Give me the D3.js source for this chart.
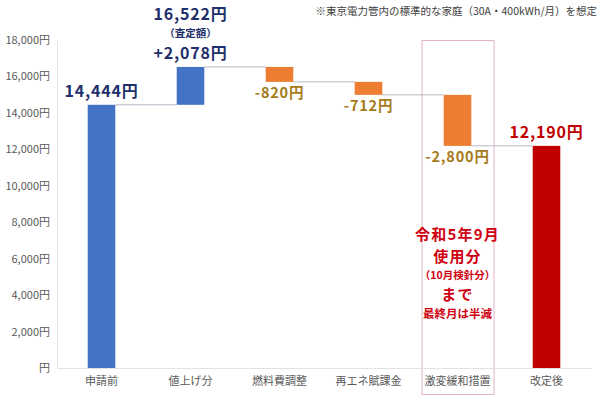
<!DOCTYPE html>
<html>
<head>
<meta charset="utf-8">
<script src="https://cdn.jsdelivr.net/npm/d3@7"></script>
<style>
  body { margin: 0; background: #fff; }
  svg text { font-family: "Noto Sans CJK JP", "Noto Sans", sans-serif; }
</style>
</head>
<body>
<div id="chart"></div>
<script>
const categories = ["申請前", "値上げ分", "燃料費調整", "再エネ賦課金", "激変緩和措置", "改定後"];
const values = [14444, 2078, -820, -712, -2800, 12190];
const kinds = ["total", "delta", "delta", "delta", "delta", "total"];
const barColors = ["#4472C4", "#4472C4", "#ED7D31", "#ED7D31", "#ED7D31", "#C00000"];
const valueLabels = ["14,444円", "+2,078円", "-820円", "-712円", "-2,800円", "12,190円"];
const yTicks = [0, 2000, 4000, 6000, 8000, 10000, 12000, 14000, 16000, 18000];

const width = 600;
const height = 397;

const svg = d3.select("#chart")
    .append("svg")
    .attr("width", width)
    .attr("height", height);

const xScale = d3.scaleBand()
    .domain(categories)
    .range([57, 591])
    .padding(0);

const yScale = d3.scaleLinear()
    .domain([0, 18000])
    .range([368, 40]);

// running totals for the waterfall
let running = 0;
const bars = categories.map((c, i) => {
    let lo, hi;
    if (kinds[i] === "total") {
        lo = 0; hi = values[i]; running = values[i];
    } else {
        const start = running;
        running += values[i];
        lo = Math.min(start, running); hi = Math.max(start, running);
    }
    return { name: c, lo: lo, hi: hi, end: running, value: values[i], color: barColors[i], label: valueLabels[i] };
});

const barW = xScale.bandwidth() * 0.31;
const cx = name => xScale(name) + xScale.bandwidth() / 2;

// pink highlight box
const hl = "激変緩和措置";
svg.append("rect")
    .attr("x", cx(hl) - 35.5)
    .attr("y", 40.5)
    .attr("width", 72)
    .attr("height", 354)
    .attr("fill", "none")
    .attr("stroke", "#e3b3c3")
    .attr("stroke-width", 1);

// axes
const yAxis = svg.append("g")
    .attr("transform", "translate(57,0)")
    .call(d3.axisLeft(yScale).tickValues(yTicks).tickSize(0).tickPadding(7)
        .tickFormat(d => d === 0 ? "円" : d3.format(",")(d) + "円"));
yAxis.select(".domain").attr("stroke", "#e2e2e2");
yAxis.selectAll("text")
    .attr("fill", "#595959")
    .attr("font-size", "11px")
    .attr("font-family", "\"Noto Sans CJK JP\", sans-serif");

const xAxis = svg.append("g")
    .attr("transform", "translate(0,368)")
    .call(d3.axisBottom(xScale).tickSize(0).tickPadding(9));
xAxis.select(".domain").attr("stroke", "#e2e2e2");
xAxis.selectAll("text")
    .attr("fill", "#595959")
    .attr("font-size", "11px")
    .attr("font-family", "\"Noto Sans CJK JP\", sans-serif");

// connector lines
for (let i = 0; i < bars.length - 1; i++) {
    svg.append("line")
        .attr("x1", cx(bars[i].name) + barW / 2)
        .attr("x2", cx(bars[i + 1].name) - barW / 2)
        .attr("y1", yScale(bars[i].end))
        .attr("y2", yScale(bars[i].end))
        .attr("stroke", "#b9b6c6")
        .attr("stroke-width", 1);
}

svg.selectAll("rect.bar")
    .data(bars)
    .enter()
    .append("rect")
    .attr("class", "bar")
    .attr("x", d => cx(d.name) - barW / 2)
    .attr("y", d => yScale(d.hi))
    .attr("width", barW)
    .attr("height", d => yScale(d.lo) - yScale(d.hi))
    .attr("fill", d => d.color);

// value labels
const navy = "#1F2F6B";
const gold = "#A67A1A";
const red = "#C00000";

bars.forEach((d, i) => {
    const isDown = d.value < 0;
    svg.append("text")
        .attr("x", cx(d.name))
        .attr("y", isDown ? yScale(d.lo) + 16 : yScale(d.hi) - 8)
        .attr("text-anchor", "middle")
        .attr("font-weight", "bold")
        .attr("font-size", isDown ? "14.5px" : "16px")
        .attr("letter-spacing", "0.8px")
        .attr("fill", isDown ? gold : (i === bars.length - 1 ? red : navy))
        .text(d.label);
});

// extra annotation over the increase bar
const upName = categories[1];
svg.append("text")
    .attr("x", cx(upName)).attr("y", 37)
    .attr("text-anchor", "middle").attr("font-weight", "bold")
    .attr("font-size", "10.5px").attr("fill", navy)
    .text("（査定額）");
svg.append("text")
    .attr("x", cx(upName)).attr("y", 20)
    .attr("text-anchor", "middle").attr("font-weight", "bold")
    .attr("font-size", "16px").attr("letter-spacing", "0.8px").attr("fill", navy)
    .text("16,522円");

// red note in the highlight box
const noteLines = [
    { text: "令和5年9月", y: 240, size: 15 },
    { text: "使用分", y: 262, size: 15 },
    { text: "（10月検針分）", y: 279, size: 10.5 },
    { text: "まで", y: 300, size: 15 },
    { text: "最終月は半減", y: 318, size: 11.5 }
];
noteLines.forEach(l => {
    svg.append("text")
        .attr("x", cx(hl)).attr("y", l.y)
        .attr("text-anchor", "middle").attr("font-weight", "bold")
        .attr("font-size", l.size + "px")
        .attr("letter-spacing", l.size > 12 ? "1.2px" : "0px")
        .attr("fill", "#D00010")
        .text(l.text);
});

svg.append("text")
    .attr("x", 597).attr("y", 15)
    .attr("text-anchor", "end")
    .attr("font-size", "10.5px")
    .attr("fill", "#404040")
    .text("※東京電力管内の標準的な家庭（30A・400kWh/月）を想定");
</script>
</body>
</html>
